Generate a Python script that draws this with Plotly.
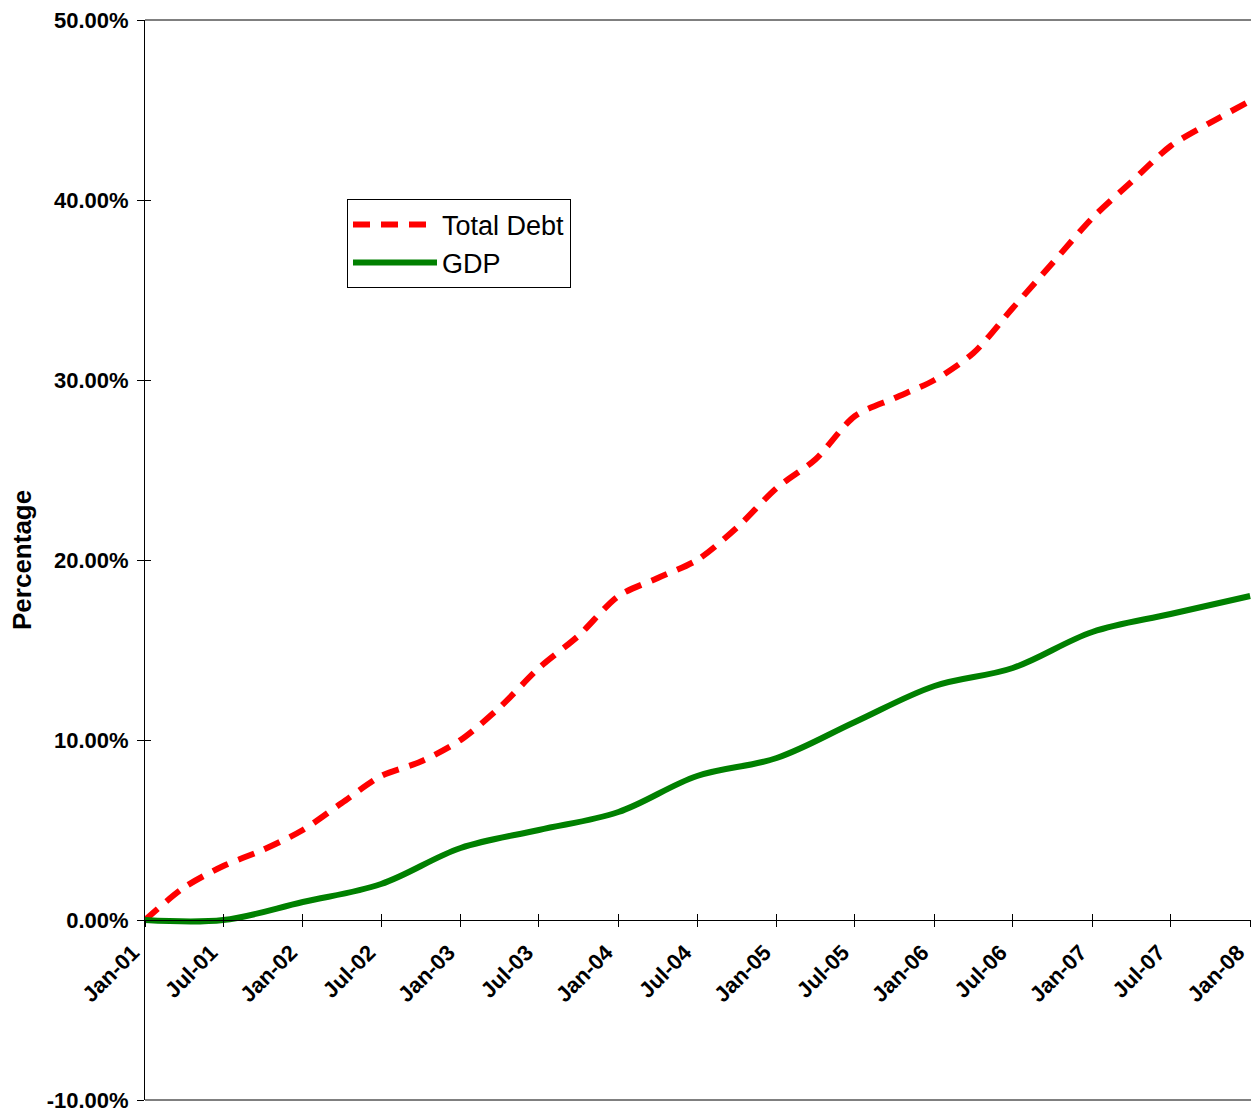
import plotly.graph_objects as go

# Quarterly observations, cumulative growth since Jan 2001 (percent)
debt_dates = [
    "2001-01-01", "2001-04-01", "2001-07-01", "2001-10-01",
    "2002-01-01", "2002-04-01", "2002-07-01", "2002-10-01",
    "2003-01-01", "2003-04-01", "2003-07-01", "2003-10-01",
    "2004-01-01", "2004-04-01", "2004-07-01", "2004-10-01",
    "2005-01-01", "2005-04-01", "2005-07-01", "2005-10-01",
    "2006-01-01", "2006-04-01", "2006-07-01", "2006-10-01",
    "2007-01-01", "2007-04-01", "2007-07-01", "2007-10-01",
    "2008-01-01",
]
total_debt = [
    0.0, 1.8, 3.0, 3.9,
    5.0, 6.5, 8.0, 8.8,
    10.0, 11.8, 14.0, 15.8,
    18.0, 19.0, 20.0, 21.8,
    24.0, 25.6, 28.0, 29.0,
    30.0, 31.5, 34.0, 36.5,
    39.0, 41.0, 43.0, 44.3,
    45.5,
]

# Semi-annual observations, cumulative growth since Jan 2001 (percent)
gdp_dates = [
    "2001-01-01", "2001-07-01", "2002-01-01", "2002-07-01",
    "2003-01-01", "2003-07-01", "2004-01-01", "2004-07-01",
    "2005-01-01", "2005-07-01", "2006-01-01", "2006-07-01",
    "2007-01-01", "2007-07-01", "2008-01-01",
]
gdp = [0.0, 0.0, 1.0, 2.0, 4.0, 5.0, 6.0, 8.0, 9.0, 11.0, 13.0, 14.0, 16.0, 17.0, 18.0]

# Value axis ticks (fractions) and their labels
y_ticks = [-0.10, 0.0, 0.10, 0.20, 0.30, 0.40, 0.50]
y_tick_labels = [f"{v:.2%}" for v in y_ticks]
y_min, y_max = -0.10, 0.50
x_start, x_end = "2001-01-01", "2008-01-03"

FONT = "Liberation Sans, Arial, sans-serif"

fig = go.Figure()
fig.add_trace(go.Scatter(
    x=debt_dates, y=[v / 100 for v in total_debt], name="Total Debt",
    mode="lines", line=dict(color="#FF0000", width=6, dash="17px,11px",
                            shape="spline", smoothing=0.8),
))
fig.add_trace(go.Scatter(
    x=gdp_dates, y=[v / 100 for v in gdp], name="GDP",
    mode="lines", line=dict(color="#008000", width=6, shape="spline", smoothing=1.0),
))

zero_pos = (0 - y_min) / (y_max - y_min)

axis_common = dict(
    type="date", range=[x_start, x_end], tick0="2001-01-01", dtick="M6",
    anchor="free", position=zero_pos, showgrid=False, zeroline=False,
    showline=True, linecolor="#000000", linewidth=1,
    ticklen=6, tickcolor="#000000", tickwidth=1,
)
y_common = dict(
    range=[y_min - 1e-6, y_max + 1e-6], tickmode="array", tickvals=y_ticks,
    showgrid=False, zeroline=False, tickcolor="#000000",
)
fig.update_layout(
    width=1251, height=1113,
    margin=dict(l=145, r=0, t=20, b=9),
    paper_bgcolor="white", plot_bgcolor="white",
    font=dict(family=FONT, color="#000000"),
    xaxis=dict(
        **axis_common, ticks="outside", tickformat="%b-%y", tickangle=-45,
        ticklabelshift=-12, ticklabelstandoff=4, ticklabeloverflow="allow",
        tickfont=dict(family=FONT, size=22, color="#000000", weight="bold"),
    ),
    xaxis2=dict(**axis_common, overlaying="x", ticks="inside", showticklabels=False),
    yaxis=dict(
        **y_common, ticktext=y_tick_labels,
        showline=True, linecolor="#000000", linewidth=1,
        ticks="outside", ticklen=7, ticklabelstandoff=4, ticklabeloverflow="allow",
        tickfont=dict(family=FONT, size=22, color="#000000", weight="bold"),
    ),
    yaxis2=dict(
        **y_common, overlaying="y", anchor="x", showline=False,
        ticks="inside", ticklen=6, showticklabels=False,
    ),
    showlegend=True,
    legend=dict(
        x=(347 - 145) / 1106, y=(1104 - 200) / 1084, xanchor="left", yanchor="top",
        bgcolor="white", bordercolor="#000000", borderwidth=1,
        font=dict(family=FONT, size=27, color="#000000"),
        itemwidth=84, tracegroupgap=0,
    ),
    shapes=[
        dict(type="line", xref="paper", yref="paper", x0=0, x1=1, y0=1, y1=1,
             line=dict(color="#000000", width=1)),
        dict(type="line", xref="paper", yref="paper", x0=0, x1=1, y0=0, y1=0,
             line=dict(color="#000000", width=1)),
    ],
    annotations=[
        dict(text="<b>Percentage</b>", textangle=-90, xref="paper", yref="paper",
             x=(22 - 145) / 1106, y=0.5, xanchor="center", yanchor="middle",
             showarrow=False, font=dict(family=FONT, size=26, color="#000000")),
    ],
)
# invisible helper traces so the overlay axes render their ticks
fig.add_trace(go.Scatter(x=[x_start], y=[None], xaxis="x2", yaxis="y", showlegend=False,
                         hoverinfo="skip"))
fig.add_trace(go.Scatter(x=[x_start], y=[None], xaxis="x", yaxis="y2", showlegend=False,
                         hoverinfo="skip"))

fig.write_html("out.html")
